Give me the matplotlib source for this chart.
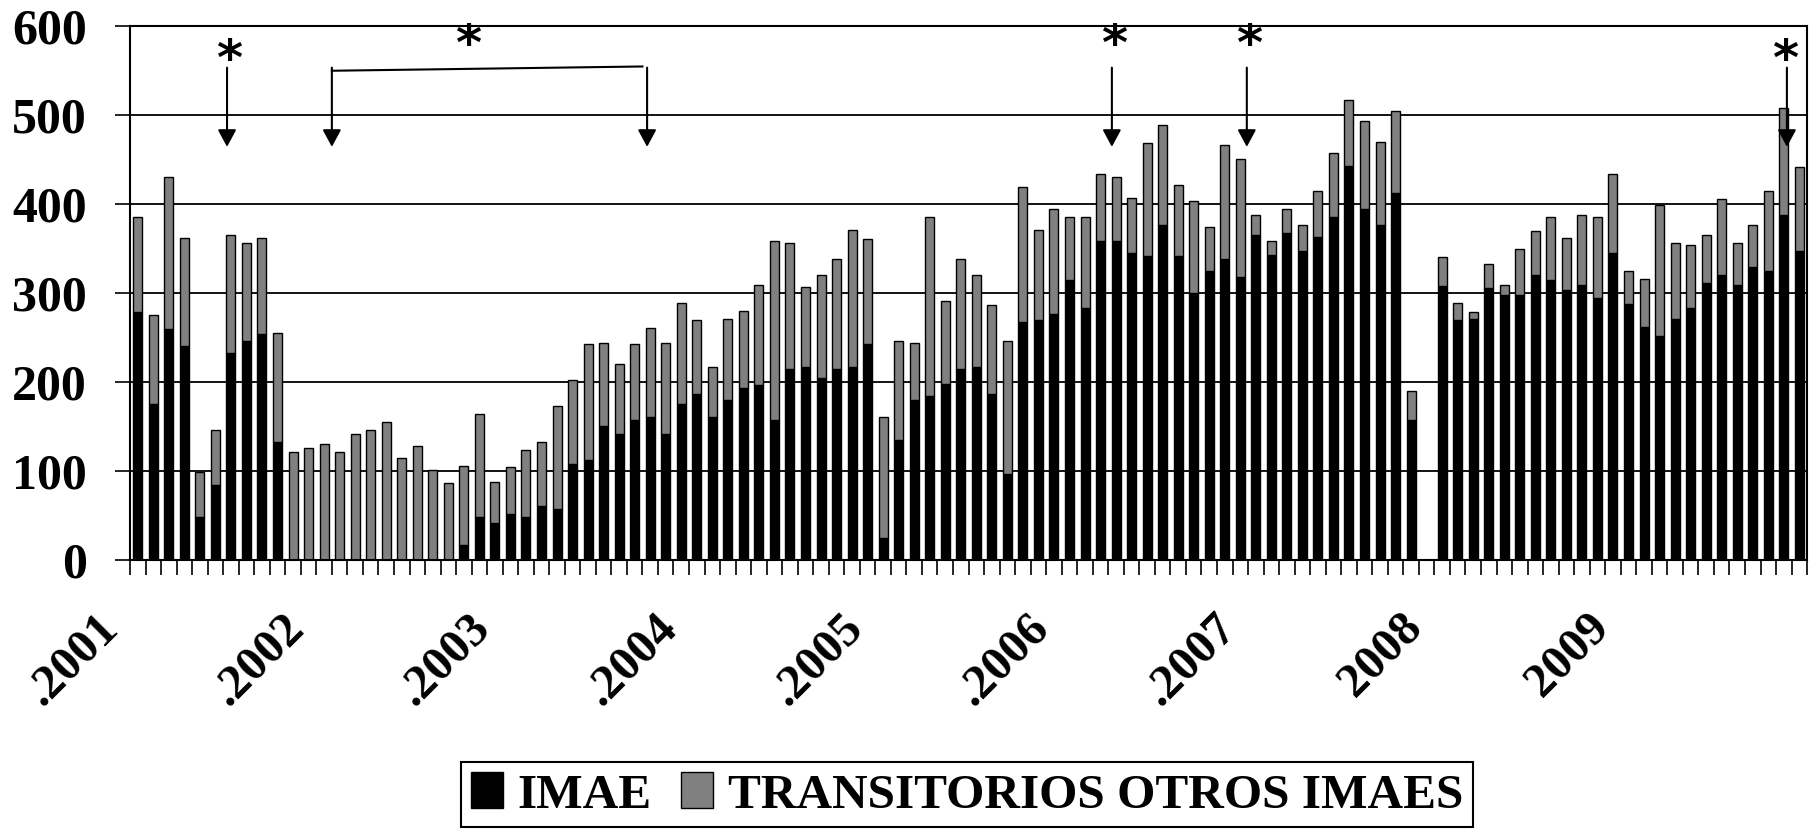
import numpy as np
import matplotlib
matplotlib.use("Agg")
import matplotlib.pyplot as plt

plt.rcParams['font.family'] = ['Liberation Serif', 'DejaVu Serif']
plt.rcParams['font.weight'] = 'bold'

# monthly values, Jan 2001 .. Dec 2009 (108 months)
imae = [278, 175, 259, 240, 48, 84, 233, 246, 254, 133, 0, 0,
        0, 0, 0, 0, 0, 0, 0, 0, 0, 17, 48, 41,
        52, 48, 61, 57, 108, 112, 151, 142, 157, 160, 142, 175,
        186, 160, 180, 193, 196, 157, 215, 217, 204, 215, 217, 242,
        25, 135, 180, 184, 198, 215, 217, 186, 97, 267, 269, 276,
        314, 283, 358, 358, 345, 341, 376, 341, 300, 325, 338, 318,
        365, 343, 367, 347, 363, 385, 443, 394, 376, 412, 157, 0,
        308, 269, 271, 305, 298, 298, 320, 314, 303, 309, 294, 345,
        287, 262, 251, 271, 283, 311, 320, 309, 329, 325, 387, 347]

transitorios = [107, 100, 171, 122, 51, 62, 132, 110, 108, 122, 121, 126,
                130, 121, 141, 146, 155, 115, 128, 101, 86, 89, 116, 47,
                52, 76, 72, 116, 94, 130, 93, 78, 85, 100, 102, 114,
                83, 57, 91, 87, 113, 201, 141, 90, 116, 123, 154, 118,
                136, 111, 64, 201, 93, 123, 103, 100, 149, 152, 102, 118,
                71, 102, 76, 72, 62, 127, 112, 80, 103, 49, 128, 132,
                22, 15, 27, 29, 51, 72, 74, 99, 94, 92, 33, 0,
                32, 20, 7, 27, 11, 51, 49, 71, 59, 78, 91, 89,
                38, 54, 148, 85, 71, 54, 85, 47, 47, 89, 121, 94]

year_labels = ['.2001', '.2002', '.2003', '.2004', '.2005', '.2006', '.2007', '2008', '2009']

# arrows marking events (month index)
single_arrows = [5.75, 62.73, 71.42, 106.2]
bracket = [12.5, 32.8]
stars = [(5.87, 561), (21.3, 577), (62.9, 577), (71.55, 577), (106.1, 561)]

x = np.arange(len(imae))

fig = plt.figure(figsize=(18.18, 8.32), dpi=100)
ax = fig.add_axes([0.0715, 0.327, 0.9225, 0.642])

for y in [100, 200, 300, 400, 500]:
    ax.axhline(y, color='black', lw=1.3, zorder=0)

w = 0.58
ax.bar(x, imae, width=w, color='black', edgecolor='black', lw=1, label='IMAE', zorder=2)
ax.bar(x, transitorios, width=w, bottom=imae, color='#808080', edgecolor='black', lw=1,
       label='TRANSITORIOS OTROS IMAES', zorder=2)

ax.set_xlim(-0.5, len(imae) - 0.5)
ax.set_ylim(0, 600)
ax.set_yticks([0, 100, 200, 300, 400, 500, 600])
ax.tick_params(axis='y', labelsize=36, length=11, width=1.2, pad=20)

ax.set_xticks(np.arange(-0.5, len(imae), 1))
ax.set_xticklabels([])
ax.tick_params(axis='x', length=11, width=1.2, direction='out')

for i, lab in enumerate(year_labels):
    ax.annotate(lab, xy=(i * 12, 0), xycoords=('data', 'axes fraction'),
                xytext=(-19, -44), textcoords='offset points',
                rotation=45, rotation_mode='anchor', ha='right', va='center',
                fontsize=35, fontweight='bold')

for s in ax.spines.values():
    s.set_linewidth(1.5)
    s.set_color('black')

arrow_kw = dict(arrowstyle='-|>,head_length=0.65,head_width=0.35', color='black',
                lw=1.5, shrinkA=0, shrinkB=0, mutation_scale=16)
for xa in single_arrows + bracket:
    ax.annotate('', xy=(xa, 464), xytext=(xa, 553), arrowprops=arrow_kw, zorder=4)
ax.plot([bracket[0], bracket[1] - 0.3], [549.5, 554.3], color='black', lw=1.5, zorder=4)

for xs, ys in stars:
    ax.text(xs, ys, '*', ha='center', va='center', fontsize=36, fontweight='bold',
            family='DejaVu Sans', zorder=4)

leg = fig.legend(loc='center', bbox_to_anchor=(0.532, 0.0445), ncol=2, fontsize=35.5,
                 frameon=True, fancybox=False, edgecolor='black', framealpha=1,
                 handlelength=0.65, handleheight=0.75, handletextpad=0.3,
                 columnspacing=0.6, borderpad=0.2, borderaxespad=0)
leg.get_frame().set_linewidth(1.5)

fig.savefig('out.png', dpi=100)
